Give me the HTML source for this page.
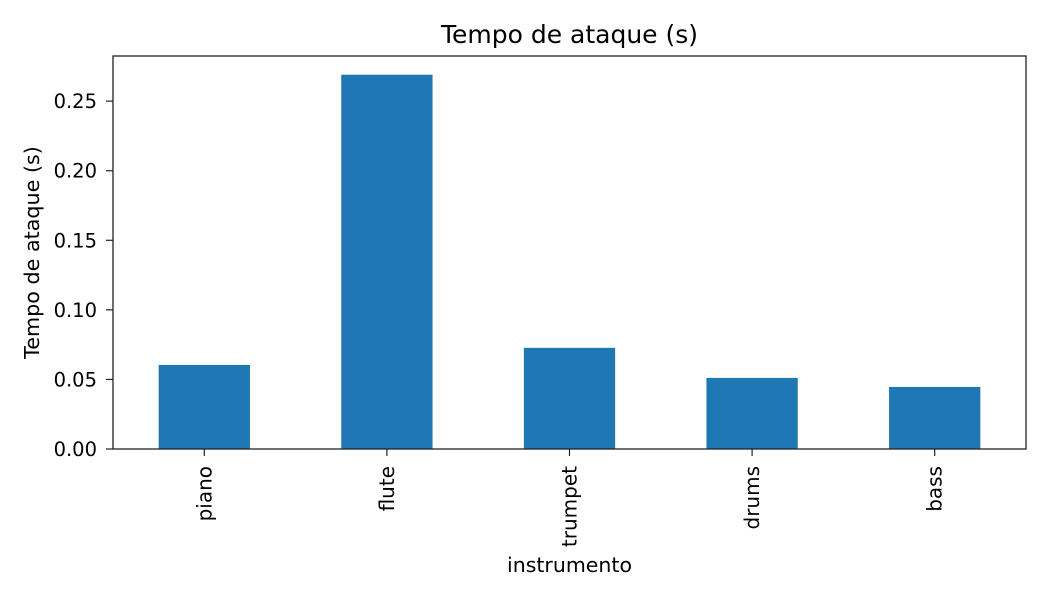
<!DOCTYPE html>
<html><head><meta charset="utf-8"><style>
body{margin:0;background:#fff;}
svg{display:block;font-family:"DejaVu Sans","Liberation Sans",sans-serif;}
</style></head><body>
<svg id="chart" width="1050" height="600"></svg>
<script>
const categories=["piano","flute","trumpet","drums","bass"];
const values=[0.0604,0.269,0.0727,0.0511,0.0446];
const yTicks=[0,0.05,0.10,0.15,0.20,0.25];
const yTickLabels=["0.00","0.05","0.10","0.15","0.20","0.25"];
const L=113,R=1026,T=56,B=449;
const yMax=Math.max(...values)*1.05;
const y=v=>B-(v/yMax)*(B-T);
const x=i=>L+(i+0.5)/categories.length*(R-L);
const bw=0.5*(R-L)/categories.length;
const svg=document.getElementById('chart');
const NS='http://www.w3.org/2000/svg';
function mk(t,a,txt){const e=document.createElementNS(NS,t);for(const k in a)e.setAttribute(k,a[k]);if(txt!=null)e.textContent=txt;svg.appendChild(e);return e;}
categories.forEach((c,i)=>{
 const r=mk('rect',{x:x(i)-bw/2,y:y(values[i]),width:bw,height:B-y(values[i]),fill:'#1f77b4'});
 
 
 const tk=mk('line',{x1:x(i),x2:x(i),y1:B,y2:B+7,stroke:'#222','stroke-width':1.2});
 
 
 const t=mk('text',{x:x(i)+7,y:B+17,'font-size':'20','text-anchor':'end',transform:`rotate(-90 ${x(i)+7} ${B+17})`},c);
 
 
});
yTicks.forEach((v,i)=>{
 const tk=mk('line',{x1:L-7,x2:L,y1:y(v),y2:y(v),stroke:'#222','stroke-width':1.2});
 
 
 const t=mk('text',{x:L-16,y:y(v)+7,'font-size':'19.5','text-anchor':'end'},yTickLabels[i]);
 
 
});
const fr=mk('rect',{x:L,y:T,width:R-L,height:B-T,fill:'none',stroke:'#222','stroke-width':1.3});


const ti=mk('text',{x:(L+R)/2,y:43,'font-size':'25','text-anchor':'middle'},'Tempo de ataque (s)');


const xl=mk('text',{x:(L+R)/2,y:572,'font-size':'20.5','text-anchor':'middle'},'instrumento');


const yl=mk('text',{x:39,y:(T+B)/2,'font-size':'20.7','text-anchor':'middle',transform:`rotate(-90 39 ${(T+B)/2})`},'Tempo de ataque (s)');


</script>
</body></html>
